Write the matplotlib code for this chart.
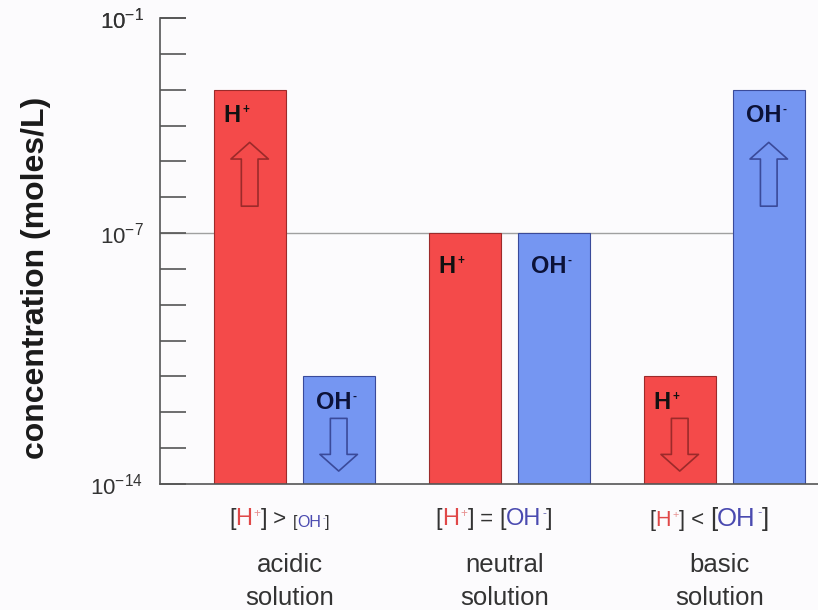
import numpy as np
import matplotlib
matplotlib.use("Agg")
import matplotlib.pyplot as plt
from matplotlib.offsetbox import TextArea, HPacker, AnnotationBbox

plt.rcParams['font.family'] = ['Liberation Sans', 'DejaVu Sans']
plt.rcParams['mathtext.fontset'] = 'custom'
plt.rcParams['mathtext.rm'] = 'Liberation Sans'
plt.rcParams['mathtext.bf'] = 'Liberation Sans:bold'

# data
groups = ['acidic\nsolution', 'neutral\nsolution', 'basic\nsolution']
h_conc = [1e-3, 1e-7, 1e-11]
oh_conc = [1e-11, 1e-7, 1e-3]
h_arrow = ['up', None, 'down']
oh_arrow = ['down', None, 'up']
relations = ['>', '=', '<']
# font sizes of the [H+] and [OH-] parts of the bottom labels
h_size = [17, 17, 15.5]
oh_size = [11.5, 17, 18.5]
decades = np.arange(-14, 0)
shown = [-14, -7, -1]

red = '#f44a4a'
blue = '#7596f2'
red_edge = '#9c2a2a'
blue_edge = '#3a4a9a'
bg = '#fcfbfd'
grey = '#333333'

fig = plt.figure(figsize=(8.18, 6.10), dpi=100, facecolor=bg)
ax = fig.add_axes([0.1956, 0.2066, 0.8044, 0.7639], facecolor=bg)

x = np.arange(len(groups))
off = 0.207
w = 0.335

ax.set_yscale('log')
ax.set_ylim(1e-14, 1e-1)
ax.set_xlim(-0.624, 2.436)

ax.hlines(1e-7, -0.624, x[-1] + off, color='#a0a0a0', lw=1, zorder=1)

ax.bar(x - off, h_conc, w, bottom=1e-14, color=red, edgecolor=red_edge, lw=0.8, zorder=2)
ax.bar(x + off, oh_conc, w, bottom=1e-14, color=blue, edgecolor=blue_edge, lw=0.8, zorder=2)


def draw_arrow(xc, top, direction, ec):
    if direction == 'up':
        tail, tip = top * 10 ** -3.25, top * 10 ** -1.47
    else:
        tail, tip = top * 10 ** -1.17, top * 10 ** -2.64
    ax.annotate('', xy=(xc, tip), xytext=(xc, tail),
                arrowprops=dict(arrowstyle='simple,head_length=1.2,head_width=2.7,tail_width=1.2',
                                fc='none', ec=ec, lw=1.2, shrinkA=0, shrinkB=0,
                                mutation_scale=10),
                zorder=3)


def ion(base, sign, size, color, weight='normal', sign_color=None):
    return HPacker(children=[
        TextArea(base, textprops=dict(color=color, fontsize=size, fontweight=weight)),
        TextArea(sign, textprops=dict(color=sign_color or color, fontsize=size * 0.5,
                                      fontweight=weight)),
    ], align='top', pad=0, sep=1)


for i in range(len(groups)):
    dy = -33 if h_conc[i] == oh_conc[i] else -26
    for xl, top, box, dx in [(x[i] - off - w / 2, h_conc[i], ion('H', '+', 17, '#111111', 'bold'), 10),
                             (x[i] + off - w / 2, oh_conc[i], ion('OH', '-', 17, '#0c1238', 'bold'), 13)]:
        ab = AnnotationBbox(box, (xl, top), xybox=(dx * 0.72, dy * 0.72), boxcoords='offset points',
                            frameon=False, box_alignment=(0, 0.5), zorder=4)
        ax.add_artist(ab)
    if h_arrow[i]:
        draw_arrow(x[i] - off, h_conc[i], h_arrow[i], red_edge)
    if oh_arrow[i]:
        draw_arrow(x[i] + off, oh_conc[i], oh_arrow[i], blue_edge)

    # bottom comparison label
    parts = [
        TextArea('[', textprops=dict(color=grey, fontsize=h_size[i])),
        ion('H', '+', h_size[i], '#e04848', sign_color='#e89090'),
        TextArea(']', textprops=dict(color=grey, fontsize=h_size[i])),
        TextArea(' %s ' % relations[i], textprops=dict(color=grey, fontsize=16)),
        TextArea('[', textprops=dict(color=grey, fontsize=oh_size[i])),
        ion('OH', '-', oh_size[i], '#4a4ab0', sign_color='#7070b8'),
        TextArea(']', textprops=dict(color=grey, fontsize=oh_size[i])),
    ]
    box = HPacker(children=parts, align='bottom', pad=0, sep=0)
    ab = AnnotationBbox(box, (x[i] - 0.07, -0.075), xycoords=ax.get_xaxis_transform(),
                        frameon=False, box_alignment=(0.5, 0.5), annotation_clip=False)
    ax.add_artist(ab)
    ax.text(x[i] - 0.02, -0.209, groups[i], transform=ax.get_xaxis_transform(),
            ha='center', va='center', fontsize=18.5, color=grey, linespacing=1.45)

ax.set_yticks([10.0 ** d for d in decades] + [1e-1])
ax.set_yticklabels([r'10$^{%d}$' % d if d in shown else '' for d in decades] + [r'10$^{-1}$'],
                   fontsize=16, color=grey)
ax.minorticks_off()
ax.tick_params(axis='y', which='major', direction='in', length=19, width=1.2,
               color='#555555', pad=12)
ax.set_xticks([])
for s in ['top', 'right']:
    ax.spines[s].set_visible(False)
ax.spines['left'].set_color('#555555')
ax.spines['bottom'].set_color('#555555')
ax.spines['left'].set_linewidth(1.2)
ax.spines['bottom'].set_linewidth(1.2)

ax.set_ylabel('concentration (moles/L)', fontsize=23, fontweight='bold', color='#1a1a1a')
ax.yaxis.set_label_coords(-0.166, 0.442)

fig.savefig('out.png', dpi=100, facecolor=bg)
